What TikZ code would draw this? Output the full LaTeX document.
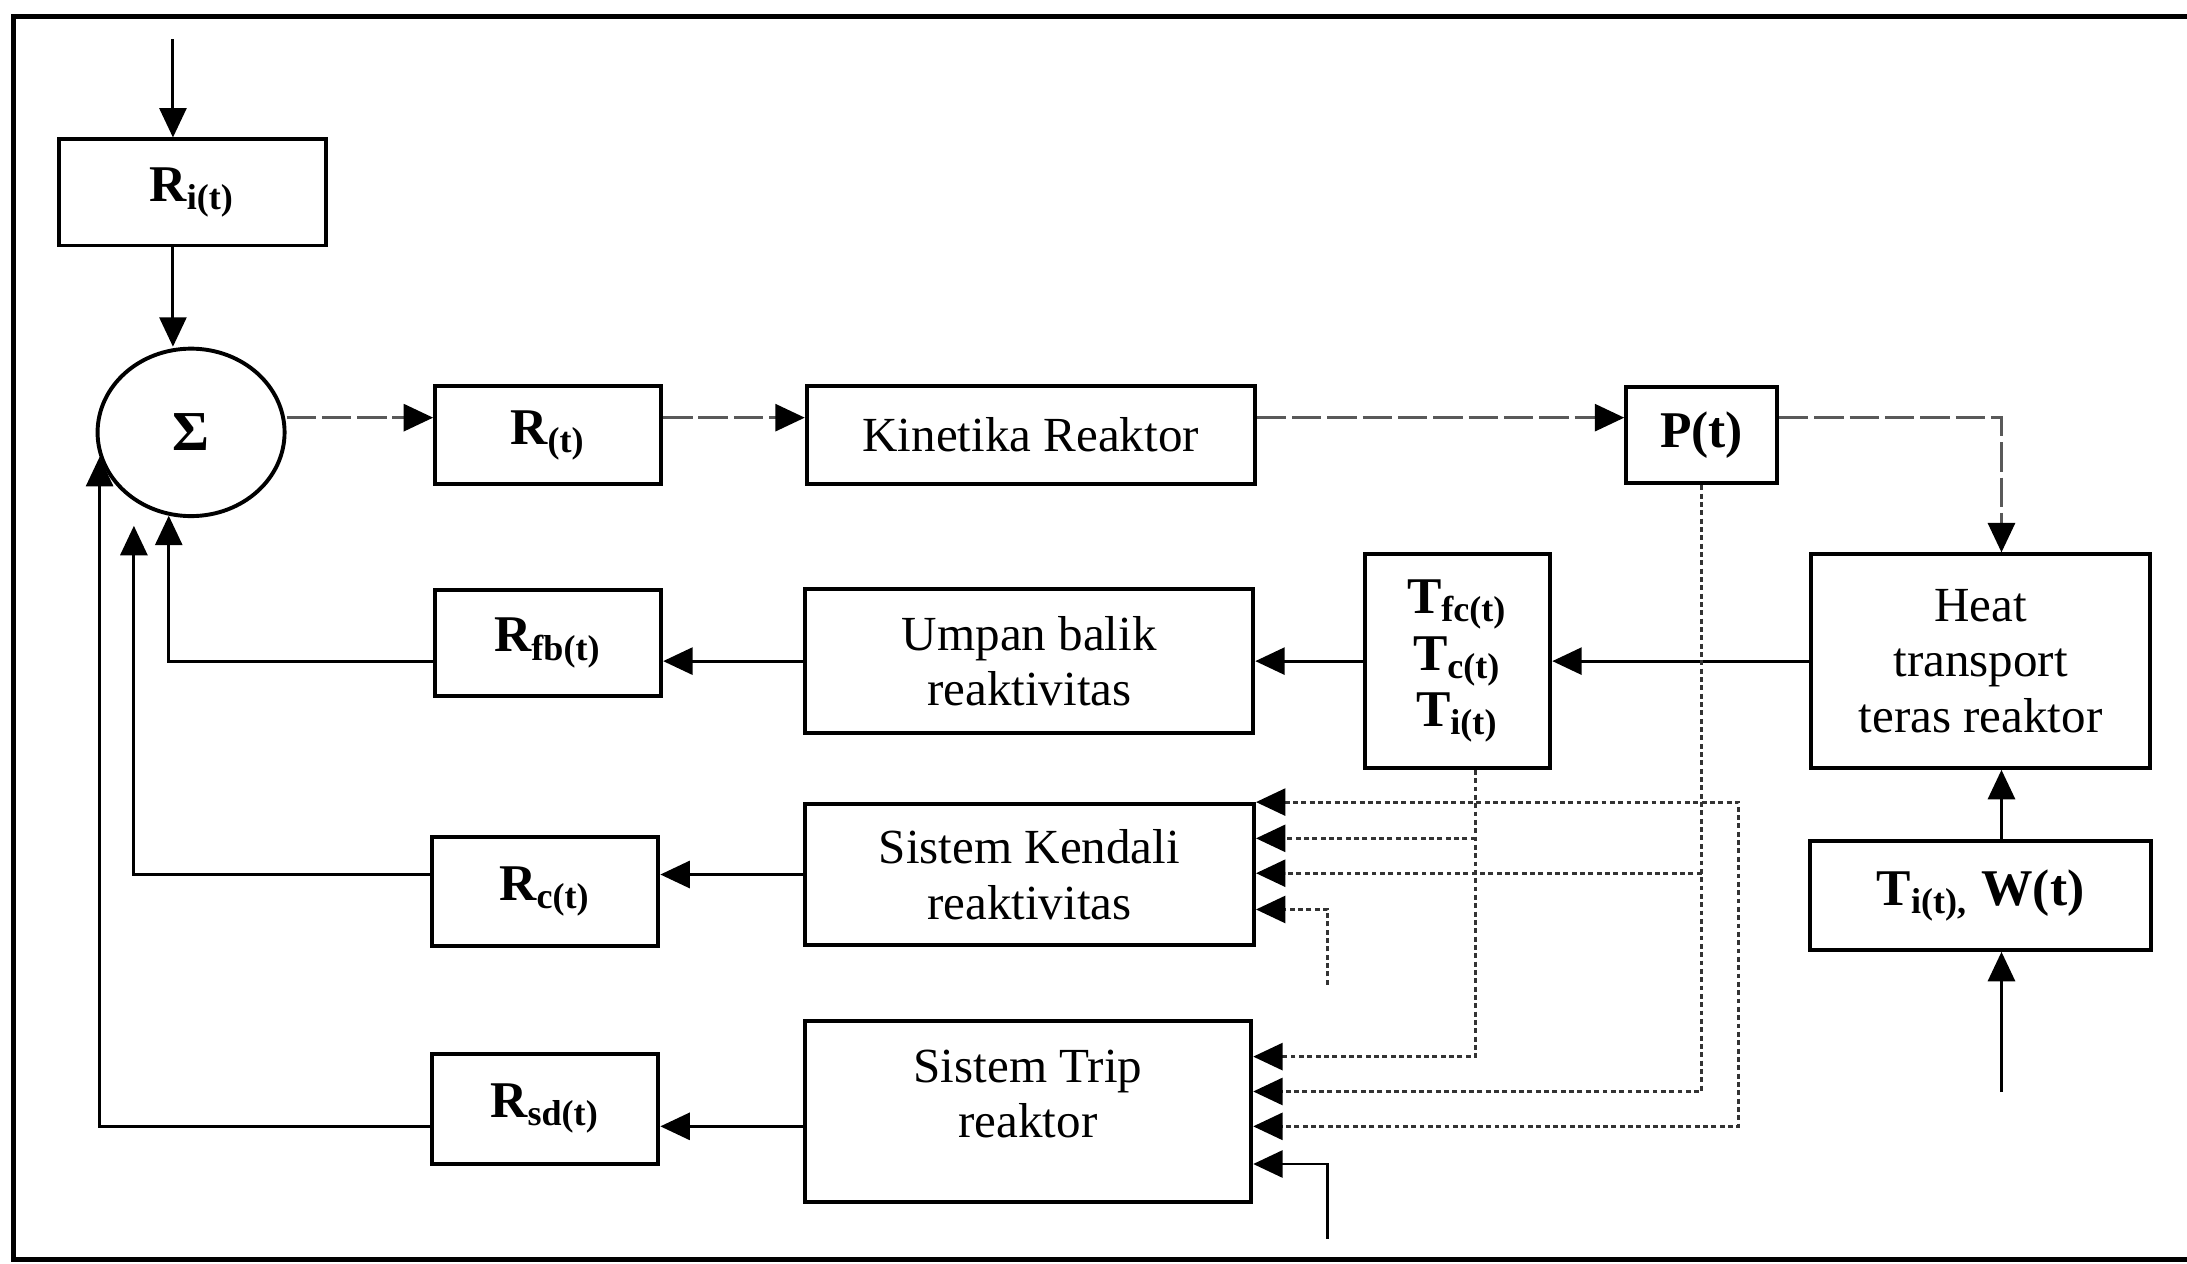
\documentclass[tikz,border=0pt]{standalone}
\usepackage{fontspec}
\setmainfont{Liberation Serif}
\usetikzlibrary{shapes.geometric, arrows.meta, positioning, calc}

\begin{document}
\begin{tikzpicture}[x=0.01cm, y=-0.01cm,
  >={Triangle[length=6pt, width=5.5pt, color=black]},
  blok/.style={draw, line width=0.8pt, align=center, inner sep=0pt,
    font=\fontsize{10}{11.3}\selectfont},
  lbl/.style={blok, font=\fontsize{10.5}{11.5}\selectfont\bfseries},
  garis/.style={line width=0.6pt, ->},
  samar/.style={garis, draw=black!65, dash pattern=on 6pt off 1.2pt},
  titik/.style={line width=0.6pt, draw=black!80, dash pattern=on 1pt off 0.7pt}]
  \useasboundingbox (0,0) rectangle (1568,906);
  \draw[line width=1pt] (1568,12) -- (10,12) -- (10,903) -- (1568,903);

  \node[lbl, minimum width=1.91cm, minimum height=0.76cm] (ri) at (138,138) {R\textsubscript{i(t)}};
  \node[draw, ellipse, line width=0.8pt, minimum width=1.34cm, minimum height=1.2cm, inner sep=0pt,
    font=\fontsize{11.5}{12}\selectfont\bfseries] (sig) at (137,310) {Σ};
  \node[lbl, minimum width=1.62cm, minimum height=0.70cm] (rt) at (393,312) {R\textsubscript{(t)}};
  \node[blok, minimum width=3.21cm, minimum height=0.70cm] (kin) at (739,312) {Kinetika Reaktor};
  \node[lbl, minimum width=1.08cm, minimum height=0.69cm] (pt) at (1220,312) {P(t)};
  \node[blok, minimum width=2.43cm, minimum height=1.53cm] (heat) at (1420,474) {Heat\\transport\\teras reaktor};
  \node[lbl, minimum width=1.33cm, minimum height=1.53cm] (temp) at (1045,474)
    {T\textsubscript{fc(t)}\\T\textsubscript{c(t)}\\T\textsubscript{i(t)}};
  \node[blok, minimum width=3.21cm, minimum height=1.03cm] (umpan) at (738,474) {Umpan balik\\reaktivitas};
  \node[lbl, minimum width=1.62cm, minimum height=0.76cm] (rfb) at (393,461) {R\textsubscript{fb(t)}};
  \node[blok, minimum width=3.22cm, minimum height=1.01cm] (kendali) at (738,627) {Sistem Kendali\\reaktivitas};
  \node[lbl, minimum width=1.62cm, minimum height=0.78cm] (rc) at (391,639) {R\textsubscript{c(t)}};
  \node[blok, minimum width=3.20cm, minimum height=1.30cm, text depth=0.26cm] (trip) at (737,797) {Sistem Trip\\reaktor};
  \node[lbl, minimum width=1.62cm, minimum height=0.79cm] (rsd) at (391,795) {R\textsubscript{sd(t)}};
  \node[lbl, minimum width=2.44cm, minimum height=0.78cm] (tiw) at (1420,642) {T\textsubscript{i(t),} W(t)};

  \coordinate (inri) at (124,28);
  \draw[garis] (inri) -- (inri |- ri.north);
  \draw[garis] (inri |- ri.south) -- (inri |- sig.north);

  \coordinate (s1) at ([yshift=3pt]sig.east);
  \coordinate (hin) at ($(heat.north)+(15,0)$);
  \draw[samar] (s1) -- (s1 -| rt.west);
  \draw[samar] (s1 -| rt.east) -- (s1 -| kin.west);
  \draw[samar] (s1 -| kin.east) -- (s1 -| pt.west);
  \draw[samar] (s1 -| pt.east) -| (hin);

  \draw[garis] (heat.west) -- (temp.east);
  \draw[garis] (temp.west) -- (umpan.east);
  \draw[garis] (umpan.west) -- (umpan.west -| rfb.east);
  \draw[garis] (umpan.west -| rfb.west) -| (sig.255);
  \coordinate (rcin) at (96,377);
  \draw[garis] (kendali.west) -- (kendali.west -| rc.east);
  \draw[garis] (kendali.west -| rc.west) -| (rcin);
  \coordinate (tw) at ([yshift=-3pt]trip.west);
  \draw[garis] (tw) -- (tw -| rsd.east);
  \draw[garis] (tw -| rsd.west) -| (sig.195);

  \coordinate (inheat) at (1435,783);
  \draw[garis] (hin |- tiw.north) -- (hin |- heat.south);
  \draw[garis] (inheat) -- (inheat |- tiw.south);

  \path (kendali.north east) coordinate (k1) ++(0,26) coordinate (k2)
    ++(0,25) coordinate (k3) ++(0,26) coordinate (k4);
  \path (trip.north east) ++(0,27) coordinate (t1) ++(0,25) coordinate (t2)
    ++(0,25) coordinate (t3) ++(0,27) coordinate (t4);
  \coordinate (v1) at ($(temp.south)+(13,0)$);
  \draw[titik, ->] (v1) |- (t1);
  \draw[titik, ->] (v1 |- k2) -- (k2);
  \draw[titik, ->] (pt.south) |- (t2);
  \draw[titik, ->] (pt.south |- k3) -- (k3);
  \draw[titik, <->] (k1) -- ++(346,0) |- (t3);
  \coordinate (kin4) at (952,706);
  \draw[titik, ->] (kin4) |- (k4);
  \coordinate (tin4) at (952,888);
  \draw[garis] (tin4) |- (t4);
\end{tikzpicture}
\end{document}
